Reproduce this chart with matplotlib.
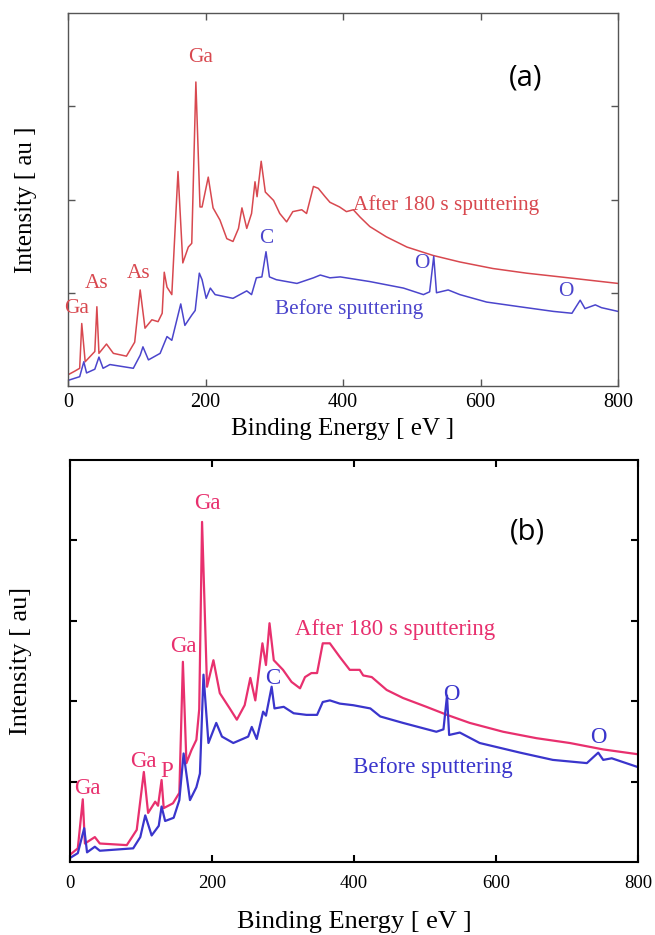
import matplotlib
matplotlib.use("Agg")
import matplotlib.pyplot as plt

SERIF = "Liberation Serif"

# ---------- panel (a) data (Binding energy eV, intensity au) ----------
a_after_x = [0, 10, 17, 20, 25, 39, 42, 45, 56, 66, 85, 97, 105, 112, 122, 131, 137, 140, 144, 151,
             160, 167, 175, 180, 186, 192, 195, 204, 211, 221, 231, 240, 248, 253, 260, 267, 272,
             275, 281, 287, 299, 308, 318, 327, 340, 347, 357, 364, 374, 381, 395, 405, 415, 425,
             439, 463, 493, 531, 570, 618, 667, 716, 764, 800]
a_after_y = [0.12, 0.16, 0.19, 0.67, 0.26, 0.37, 0.85, 0.35, 0.45, 0.35, 0.32, 0.47, 1.03, 0.62, 0.71,
             0.69, 0.78, 1.22, 1.06, 0.98, 2.30, 1.32, 1.49, 1.53, 3.26, 1.92, 1.92, 2.24, 1.91,
             1.78, 1.58, 1.55, 1.69, 1.91, 1.69, 1.85, 2.19, 2.03, 2.41, 2.08, 1.99, 1.85, 1.76,
             1.87, 1.89, 1.85, 2.14, 2.12, 2.03, 1.97, 1.92, 1.87, 1.89, 1.81, 1.71, 1.60, 1.49,
             1.40, 1.33, 1.26, 1.21, 1.17, 1.13, 1.10]
a_before_x = [0, 17, 23, 27, 39, 45, 51, 61, 95, 105, 109, 117, 134, 144, 151, 164, 170, 180, 185,
              191, 195, 201, 207, 214, 240, 260, 267, 274, 282, 288, 293, 303, 333, 357, 367, 381,
              396, 439, 488, 517, 526, 532, 536, 553, 570, 609, 657, 706, 733, 745, 752, 767, 776,
              800]
a_before_y = [0.06, 0.10, 0.26, 0.14, 0.18, 0.31, 0.19, 0.23, 0.19, 0.33, 0.42, 0.28, 0.35, 0.53,
              0.49, 0.88, 0.65, 0.76, 0.81, 1.21, 1.14, 0.94, 1.05, 0.98, 0.94, 1.02, 0.98, 1.16,
              1.17, 1.44, 1.17, 1.14, 1.10, 1.16, 1.19, 1.16, 1.17, 1.12, 1.05, 0.98, 1.01, 1.39,
              1.00, 1.03, 0.98, 0.90, 0.85, 0.80, 0.78, 0.92, 0.83, 0.87, 0.84, 0.80]

# ---------- panel (b) data ----------
b_after_x = [0, 11, 18, 21, 35, 42, 80, 94, 104, 110, 120, 124, 129, 132, 145, 154, 159, 164, 171,
             178, 182, 186, 193, 202, 211, 225, 235, 246, 254, 261, 271, 276, 281, 287, 300, 312,
             324, 331, 340, 348, 356, 366, 380, 394, 408, 413, 425, 446, 469, 502, 531, 563, 610,
             657, 704, 751, 800]
b_after_y = [0.09, 0.17, 0.78, 0.23, 0.31, 0.23, 0.21, 0.40, 1.12, 0.61, 0.75, 0.70, 1.02, 0.67,
             0.73, 0.86, 2.49, 1.23, 1.39, 1.52, 1.90, 4.23, 2.18, 2.51, 2.10, 1.91, 1.77, 1.95,
             2.29, 2.01, 2.72, 2.45, 2.97, 2.51, 2.39, 2.24, 2.16, 2.30, 2.35, 2.35, 2.72, 2.72,
             2.55, 2.39, 2.39, 2.32, 2.30, 2.14, 2.04, 1.93, 1.83, 1.73, 1.62, 1.54, 1.48, 1.40,
             1.34]
b_before_x = [0, 11, 20, 24, 35, 42, 89, 99, 106, 115, 125, 129, 134, 146, 154, 160, 169, 178,
              183, 188, 195, 206, 214, 230, 251, 256, 263, 272, 276, 284, 288, 301, 315, 333, 348,
              356, 366, 380, 399, 423, 437, 469, 516, 526, 531, 534, 549, 577, 634, 680, 728, 744,
              751, 763, 800]
b_before_y = [0.05, 0.11, 0.42, 0.12, 0.19, 0.14, 0.17, 0.31, 0.58, 0.33, 0.45, 0.69, 0.51, 0.55,
              0.77, 1.35, 0.77, 0.93, 1.10, 2.33, 1.48, 1.73, 1.56, 1.48, 1.56, 1.68, 1.53, 1.87,
              1.82, 2.18, 1.91, 1.93, 1.85, 1.83, 1.83, 1.99, 2.01, 1.97, 1.95, 1.91, 1.81, 1.73,
              1.62, 1.65, 2.07, 1.58, 1.61, 1.48, 1.36, 1.27, 1.23, 1.36, 1.27, 1.29, 1.18]

# peak labels: (text, x, y, which curve)
a_labels = [("Ga", 193, 3.52, "after"), ("As", 103, 1.21, "after"), ("As", 41, 1.10, "after"),
            ("Ga", 13, 0.83, "after"), ("C", 288, 1.58, "before"), ("O", 514, 1.31, "before"),
            ("O", 724, 1.01, "before")]
b_labels = [("Ga", 193, 4.46, "after"), ("Ga", 159, 2.68, "after"), ("Ga", 103, 1.25, "after"),
            ("P", 136, 1.12, "after"), ("Ga", 25, 0.92, "after"), ("C", 285, 2.28, "before"),
            ("O", 537, 2.08, "before"), ("O", 744, 1.55, "before")]

fig = plt.figure(figsize=(6.55, 9.35), dpi=100, facecolor="white")


def panel(rect, after, before, labels, c_after, c_before, ymax, tag, tag_xy,
          after_txt_xy, before_txt_xy, frame, lw, tick_kw, txt_size, lab_size, xlab_pad,
          ylab_pad, ylab):
    ax = fig.add_axes(rect)
    ax.plot(*after, color=c_after, lw=lw)
    ax.plot(*before, color=c_before, lw=lw)
    ax.set_xlim(0, 800)
    ax.set_ylim(0, ymax)
    ax.set_xticks([0, 200, 400, 600, 800])
    ax.set_yticks(range(1, ymax))
    ax.set_yticklabels([])
    ax.tick_params(direction="in", top=True, right=True, length=5, width=frame[1],
                   color=frame[0], **tick_kw)
    for s in ax.spines.values():
        s.set_color(frame[0])
        s.set_linewidth(frame[1])
    for lab in ax.get_xticklabels():
        lab.set_family(SERIF)
    for t, x, y, which in labels:
        ax.text(x, y, t, color=c_after if which == "after" else c_before, ha="center",
                va="center", family=SERIF, fontsize=txt_size)
    ax.text(*after_txt_xy, "After 180 s sputtering", color=c_after, family=SERIF,
            fontsize=txt_size, va="center")
    ax.text(*before_txt_xy, "Before sputtering", color=c_before, family=SERIF,
            fontsize=txt_size, va="center")
    ax.text(*tag_xy, tag, family="Open Sans", fontsize=21, ha="center", va="center")
    ax.set_xlabel("Binding Energy [ eV ]", family=SERIF, fontsize=lab_size, labelpad=xlab_pad)
    ax.set_ylabel(ylab, family=SERIF, fontsize=lab_size, labelpad=ylab_pad)
    return ax


panel([68/655, 1-386/935, 550/655, 373/935], (a_after_x, a_after_y), (a_before_x, a_before_y),
      a_labels, "#d8484f", "#4b45cc", 4, "(a)", (665, 3.3), (415, 1.94), (301, 0.83),
      ("#555555", 1.0), 1.1, dict(labelsize=14.5, pad=5), 15.3, 18, 4, 17, "Intensity [ au ]")

panel([70/655, 1-862/935, 568/655, 402/935], (b_after_x, b_after_y), (b_before_x, b_before_y),
      b_labels, "#e8306e", "#3a35cc", 5, "(b)", (644, 4.1), (317, 2.89), (399, 1.18),
      ("black", 1.5), 1.6, dict(labelsize=13.5, pad=9), 16.5, 19, 14, 18, "Intensity [ au]")

fig.savefig("out.png", dpi=100, facecolor="white")
